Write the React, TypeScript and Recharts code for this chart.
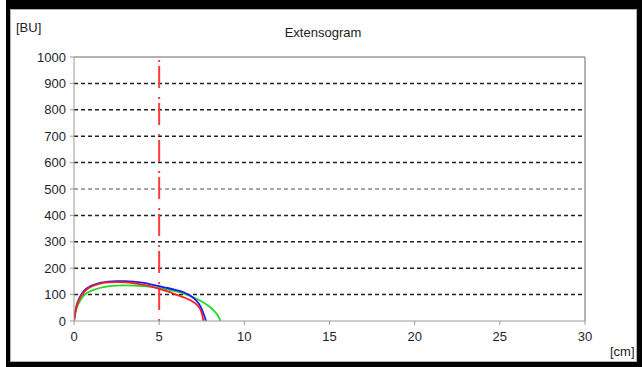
import React from 'react';
import { LineChart, Line, XAxis, YAxis, ReferenceLine } from 'recharts';

// Extensogram curves: stretch [cm] vs resistance [BU]
const blueX = [0, 0.1, 0.3, 0.6, 1.0, 1.5, 2.0, 2.5, 3.0, 3.5, 4.0, 4.5, 5.0, 5.5, 6.0, 6.5, 7.0, 7.3, 7.5, 7.65, 7.75];
const blueY = [0, 45, 85, 115, 133, 144, 149, 151, 151, 149, 145, 139, 132, 125, 117, 107, 88, 68, 45, 20, 0];

const redX = [0, 0.1, 0.3, 0.6, 1.0, 1.5, 2.0, 2.5, 3.0, 3.5, 4.0, 4.5, 5.0, 5.5, 6.0, 6.5, 7.0, 7.3, 7.5, 7.6];
const redY = [0, 40, 80, 110, 130, 141, 146, 147, 146, 143, 138, 131, 122, 112, 100, 88, 72, 55, 30, 0];

const greenX = [0, 0.1, 0.3, 0.6, 1.0, 1.5, 2.0, 2.5, 3.0, 3.5, 4.0, 4.5, 5.0, 5.5, 6.0, 6.5, 7.0, 7.5, 8.0, 8.3, 8.5, 8.6];
const greenY = [0, 35, 70, 98, 114, 125, 131, 134, 135, 134, 132, 129, 125, 119, 112, 103, 90, 74, 52, 33, 15, 0];

const xTicks = [0, 5, 10, 15, 20, 25, 30];
const yTicks = [0, 100, 200, 300, 400, 500, 600, 700, 800, 900, 1000];
const gridLevels = [100, 200, 300, 400, 500, 600, 700, 800, 900];
const markerX = 5;

const toRows = (xs: number[], ys: number[]) => xs.map((x, i) => ({ x, y: ys[i] }));

const font = 'Arial, "Liberation Sans", sans-serif';
const tickStyle = { fontSize: 13, fill: '#1e1e30', fontFamily: font };

export default function App() {
  return (
    <div style={{ position: 'absolute', left: 0, top: 0, width: 642, height: 367, background: '#fff', overflow: 'hidden' }}>
      {/* outer frame */}
      <div
        style={{
          position: 'absolute',
          left: 6,
          top: 0,
          width: 636,
          height: 367,
          boxSizing: 'border-box',
          borderStyle: 'solid',
          borderColor: '#000',
          borderWidth: '9px 5px 5px 4px',
        }}
      >
        <div style={{ position: 'absolute', inset: 0, border: '1px solid #b0b0b0' }} />
      </div>

      <div style={{ position: 'absolute', left: 16, top: 20, fontFamily: font, fontSize: 13, color: '#222' }}>[BU]</div>
      <div style={{ position: 'absolute', left: 0, width: 646, top: 25, textAlign: 'center', fontFamily: font, fontSize: 13, color: '#222' }}>
        Extensogram
      </div>
      <div style={{ position: 'absolute', left: 610, top: 344, fontFamily: font, fontSize: 13, color: '#222' }}>[cm]</div>

      <div style={{ position: 'absolute', left: 0, top: 0 }}>
        <LineChart width={642} height={367} margin={{ top: 57, right: 57, bottom: 26, left: 14 }}>
          <XAxis
            dataKey="x"
            type="number"
            domain={[0, 30]}
            ticks={xTicks}
            allowDataOverflow
            stroke="#9a9a9a"
            tickSize={4}
            tickMargin={7}
            tick={tickStyle}
            height={20}
          />
          <YAxis
            dataKey="y"
            type="number"
            domain={[0, 1000]}
            ticks={yTicks}
            allowDataOverflow
            stroke="#9a9a9a"
            tickSize={4}
            tickMargin={4}
            tick={tickStyle}
            width={60}
          />
          {gridLevels.map((v) => (
            <ReferenceLine
              key={v}
              y={v}
              stroke={v === 500 ? '#8a8a8a' : '#222'}
              strokeWidth={1.5}
              strokeDasharray="4 3"
            />
          ))}
          <ReferenceLine y={1000} stroke="#9a9a9a" strokeWidth={1.5} />
          <ReferenceLine x={30} stroke="#9a9a9a" strokeWidth={1.5} />
          <ReferenceLine x={markerX} stroke="#ff3a3a" strokeWidth={2} strokeDasharray="2 9 22 4" />
          <Line data={toRows(greenX, greenY)} dataKey="y" type="monotone" stroke="#22dd22" strokeWidth={1.8} dot={false} isAnimationActive={false} />
          <Line data={toRows(blueX, blueY)} dataKey="y" type="monotone" stroke="#1a1aff" strokeWidth={1.8} dot={false} isAnimationActive={false} />
          <Line data={toRows(redX, redY)} dataKey="y" type="monotone" stroke="#ff2020" strokeWidth={1.8} dot={false} isAnimationActive={false} />
        </LineChart>
      </div>
    </div>
  );
}
